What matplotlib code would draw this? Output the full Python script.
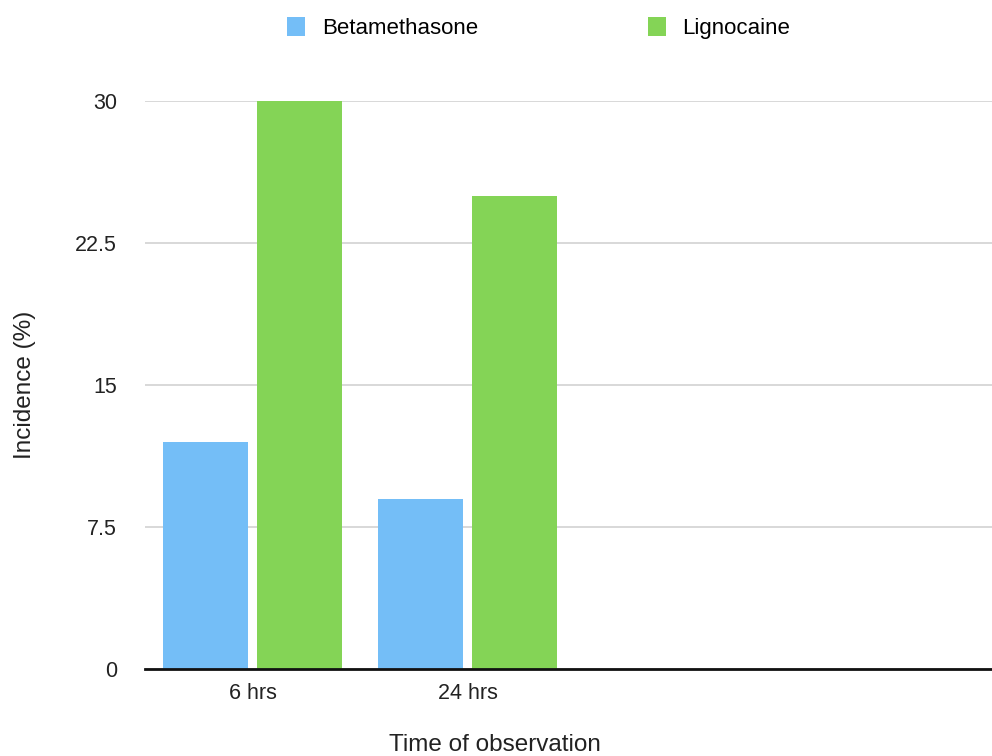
import matplotlib
matplotlib.use("Agg")
import matplotlib.pyplot as plt
import numpy as np

categories = ["6 hrs", "24 hrs"]
betamethasone = [12, 9]
lignocaine = [30, 25]
yticks = [0, 7.5, 15, 22.5, 30]
ytick_labels = ["0", "7.5", "15", "22.5", "30"]

plt.rcParams['font.family'] = ['Liberation Sans', 'DejaVu Sans']

fig = plt.figure(figsize=(9.92, 7.56), dpi=100)
ax = fig.add_axes([145/992, 1-669/756, 1-145/992, (669-101)/756])

x = np.arange(len(categories))
w = 0.395
off = 0.22
ax.bar(x - off, betamethasone, w, color="#74BEF7", label="Betamethasone", zorder=3, clip_on=False)
ax.bar(x + off, lignocaine, w, color="#84D456", label="Lignocaine", zorder=3, clip_on=False)

ax.set_xlim(-0.5, 3.44)
ax.set_ylim(0, 30)
ax.set_yticks(yticks)
ax.set_yticklabels(ytick_labels)
ax.set_xticks(x)
ax.set_xticklabels(categories)
ax.tick_params(axis='both', length=0, labelsize=15.5, colors="#222222")
ax.tick_params(axis='y', pad=20)
ax.tick_params(axis='x', pad=10)
ax.grid(axis='y', color="#d2d2d2", linewidth=1.2, zorder=0)
for s in ["top", "right", "left"]:
    ax.spines[s].set_visible(False)
ax.spines["bottom"].set_linewidth(2)
ax.spines["bottom"].set_color("#111111")
ax.spines["bottom"].set_zorder(4)

ax.set_ylabel("Incidence (%)", fontsize=17.5, color="#222222")
ax.yaxis.set_label_coords(-145/847 + 25/847, 0.5)
ax.set_xlabel("Time of observation", fontsize=17.5, color="#222222")
ax.xaxis.set_label_coords((495-145)/847, -(745-669)/568)
ax.xaxis.label.set_va("center")
ax.yaxis.label.set_va("center")

leg = fig.legend(loc="center", bbox_to_anchor=(0.543, 1-28/756), ncol=2, frameon=False,
                 fontsize=16, handlelength=0.8, handleheight=0.9, columnspacing=7.65, handletextpad=0.75)

fig.savefig("out.png", dpi=100)
